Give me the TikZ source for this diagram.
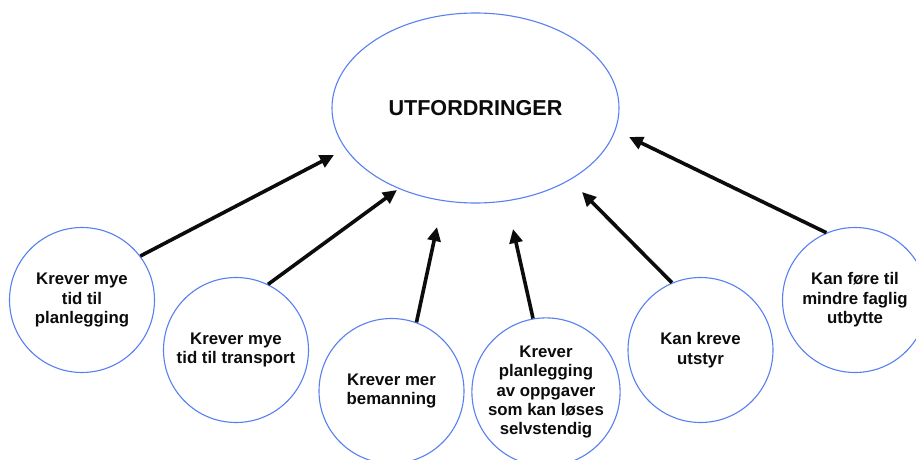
\documentclass[tikz,border=0pt]{standalone}
\usepackage{fontspec}
\setmainfont{Liberation Sans}
\usetikzlibrary{shapes.geometric,arrows.meta}

\definecolor{rim}{RGB}{88,128,242}
\definecolor{ink}{RGB}{12,12,12}

\tikzset{
  hub/.style={ellipse, draw=rim, line width=1.1pt, minimum width=287pt,
    minimum height=190pt, inner sep=0pt, text=ink,
    font=\fontsize{21.6}{26}\selectfont\bfseries},
  cause/.style={circle, draw=rim, line width=1.1pt, minimum size=145pt,
    inner sep=0pt, align=center, text=ink,
    font=\fontsize{16.8}{19.4}\selectfont\bfseries},
  push/.style={line width=3.6pt, draw=ink,
    -{Triangle[length=14pt,width=13pt]}}
}

\begin{document}
\begin{tikzpicture}[x=1pt,y=1pt]
  \useasboundingbox (0,0) rectangle (916,459);
  \fill[white] (0,0) rectangle (916,459);
  \clip (0,0) rectangle (916,459);

  % central topic
  \node[hub] (hub) at (475.5,351) {UTFORDRINGER};

  % surrounding causes
  \node[cause] (c1) at (82,159)   {Krever mye\\tid til\\planlegging};
  \node[cause] (c2) at (236,109)  {Krever mye\\tid til transport};
  \node[cause] (c3) at (391.5,68) {Krever mer\\bemanning};
  \node[cause] (c4) at (546,67)   {Krever\\planlegging\\av oppgaver\\som kan løses\\selvstendig};
  \node[cause] (c5) at (700.5,109){Kan kreve\\utstyr};
  \node[cause] (c6) at (855,159)  {Kan føre til\\mindre faglig\\utbytte};

  % arrow tips stop just short of the ellipse
  \coordinate (t1) at (334,304);
  \coordinate (t2) at (397,269);
  \coordinate (t3) at (437,232);
  \coordinate (t4) at (513,230);
  \coordinate (t5) at (582,267);
  \coordinate (t6) at (629,322);

  \draw[push] (c1.37.7)  -- (t1);
  \draw[push] (c2.64.5)  -- (t2);
  \draw[push] (c3.70.4)  -- (t3);
  \draw[push] (c4.100.8) -- (t4);
  \draw[push] (c5.113.1) -- (t5);
  \draw[push] (c6.113.8) -- (t6);
\end{tikzpicture}
\end{document}
